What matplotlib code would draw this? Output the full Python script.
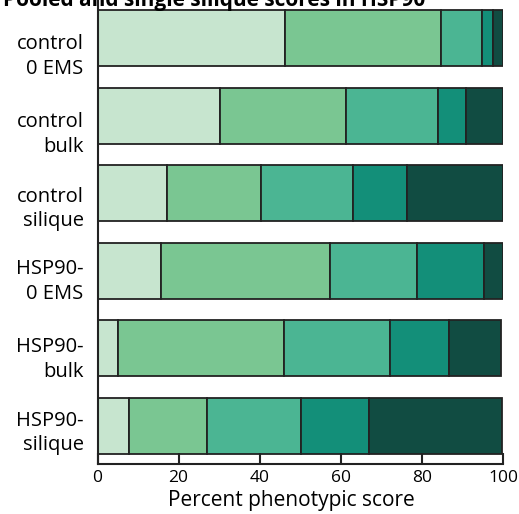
import matplotlib
matplotlib.use("Agg")
import matplotlib.pyplot as plt
import numpy as np

plt.rcParams['font.family'] = ['Open Sans', 'DejaVu Sans']

groups = ['control\n0 EMS', 'control\nbulk', 'control\nsilique',
          'HSP90-\n0 EMS', 'HSP90-\nbulk', 'HSP90-\nsilique']
# percent of plants in each phenotypic score class (mildest -> strongest)
score1 = [46.2, 30.3, 17.2, 15.6, 5.1, 7.8]
score2 = [38.4, 31.1, 23.2, 41.7, 40.9, 19.1]
score3 = [10.1, 22.5, 22.5, 21.6, 26.2, 23.2]
score4 = [2.8, 6.9, 13.3, 16.3, 14.4, 16.8]
score5 = [2.5, 9.2, 23.8, 4.8, 13.0, 32.9]
colors = ['#c7e5cf', '#7ac692', '#4bb593', '#138f79', '#114c42']
xticks = [0, 20, 40, 60, 80, 100]

fig = plt.figure(figsize=(5.19, 5.14), dpi=100)
ax = fig.add_axes([0.1879, 0.0973, 0.7813, 0.9027])

y = np.arange(len(groups))
left = np.zeros(len(groups))
for vals, c in zip([score1, score2, score3, score4, score5], colors):
    ax.barh(y, vals, left=left, height=0.72, color=c,
            edgecolor='#222222', linewidth=1.3)
    left += np.array(vals)

ax.set_xlim(0, 100)
ax.set_ylim(5.49, -0.49)
# group labels sit a little below their bars, less so further down
label_shift = np.array([0.18, 0.18, 0.14, 0.08, 0.08, 0.03])
ax.set_yticks(y + label_shift)
ax.set_yticklabels(groups, fontsize=14.5, linespacing=1.3)
ax.tick_params(axis='y', length=0, pad=10)
ax.set_xticks(xticks)
ax.tick_params(axis='x', direction='in', length=8, width=1.5,
               labelsize=12.5, pad=4, colors='#222222', labelcolor='black')
ax.set_xlabel('Percent phenotypic score', fontsize=15, labelpad=0)
ax.xaxis.set_label_coords(0.477, -0.055)

for s in ['top', 'right']:
    ax.spines[s].set_visible(False)
for s in ['left', 'bottom']:
    ax.spines[s].set_linewidth(1.5)
    ax.spines[s].set_color('#222222')

# figure heading sits at the very top edge, partly above the canvas
fig.text(0.006, 1 - 6 / 514, 'Pooled and single silique scores in HSP90',
         fontsize=15, fontweight='bold', va='baseline', ha='left')

fig.savefig('out.png', dpi=100)
